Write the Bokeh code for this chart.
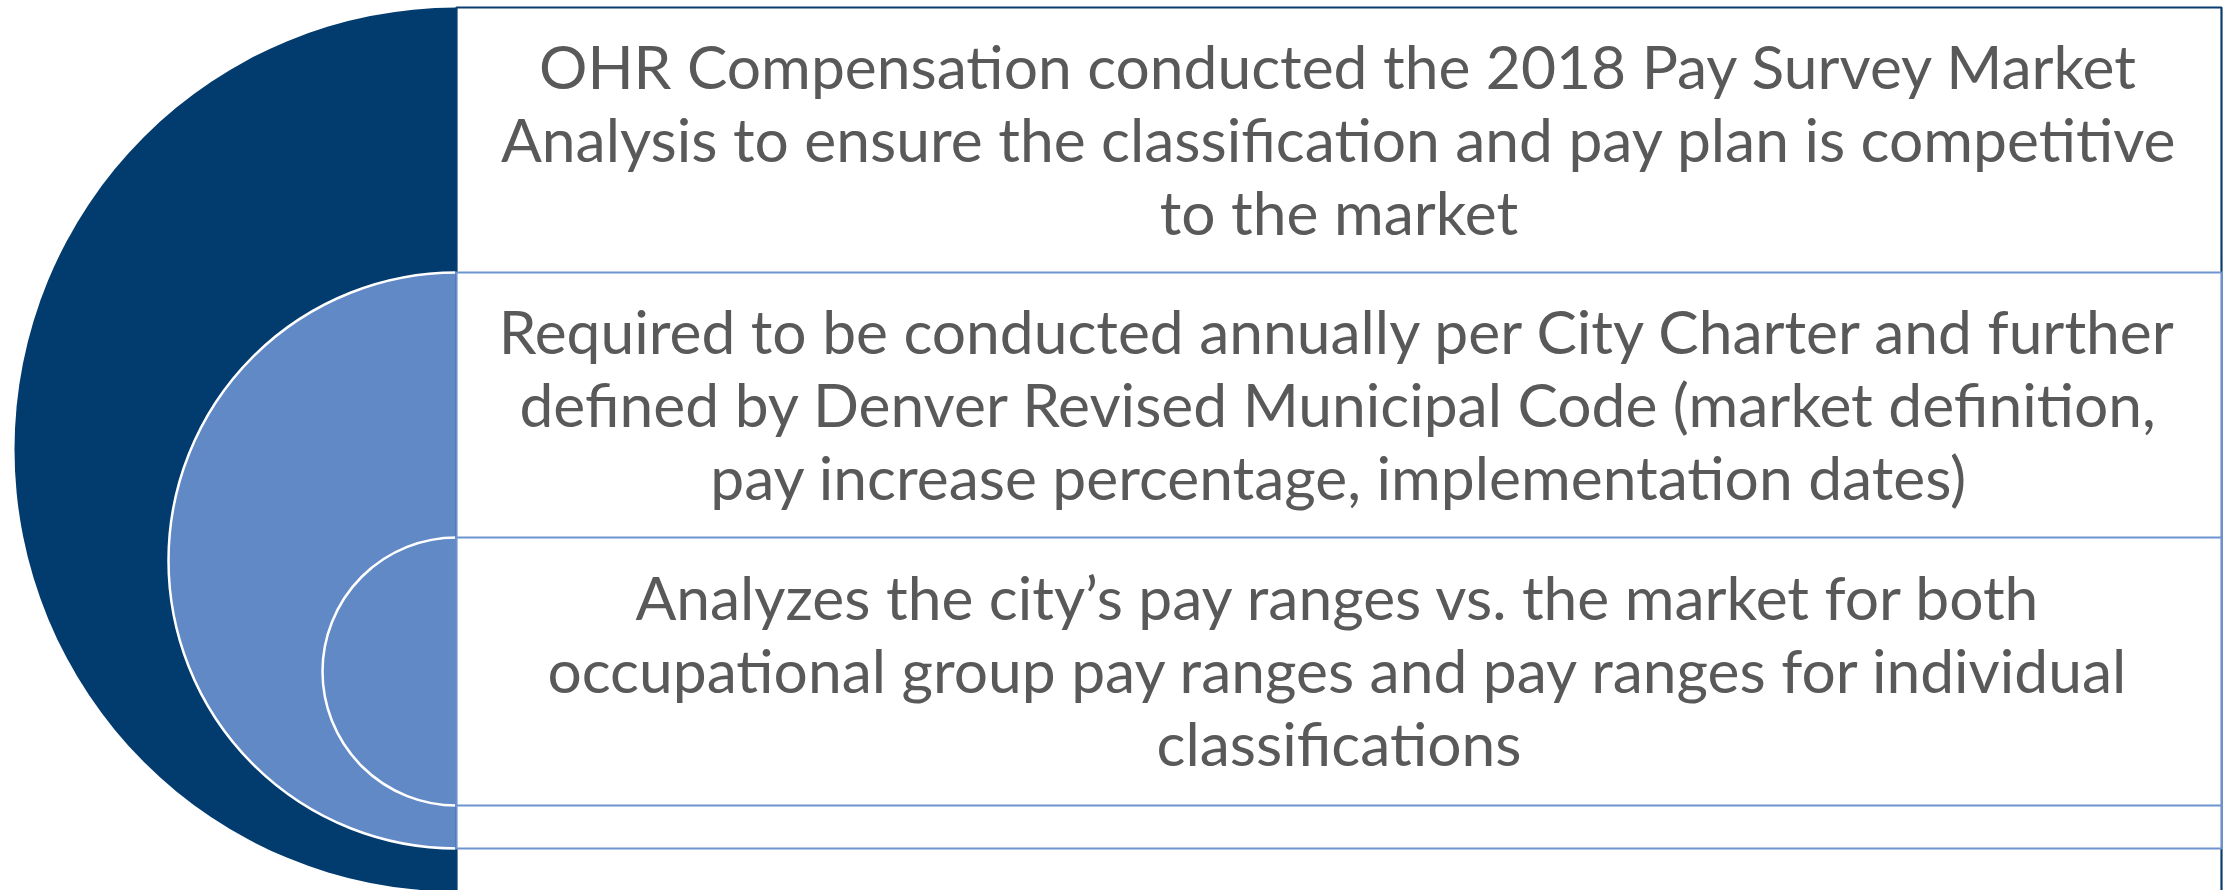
from bokeh.plotting import figure
from bokeh.models import Range1d
from bokeh.core.properties import value
from bokeh.embed import file_html
from bokeh.resources import INLINE

# ---- content ----
level_lines_1 = ["OHR Compensation conducted the 2018 Pay Survey Market",
                 "Analysis to ensure the classification and pay plan is competitive",
                 "to the market"]
level_lines_2 = ["Required to be conducted annually per City Charter and further",
                 "defined by Denver Revised Municipal Code (market definition,",
                 "pay increase percentage, implementation dates)"]
level_lines_3 = ["Analyzes the city\u2019s pay ranges vs. the market for both",
                 "occupational group pay ranges and pay ranges for individual",
                 "classifications"]
levels = [level_lines_1, level_lines_2, level_lines_3]

# ---- layout (pixel space) ----
W, H = 2233, 890
CX = 456          # shared centre of the half circles / left edge of boxes
RIGHT = 2221
tops = [7, 272, 537]
radii = [442, 288, 134]
circle_fill = ["#023B6E", "#6089C6", "#6089C6"]
circle_line = [None, "white", "white"]
box_line = ["#0A3D6F", "#6E94D0", "#6E94D0"]
TEXT_COLOR = "#595959"
FONT = "Lato"
FONT_SIZE = "60.5px"
LINE_GAP = 73

p = figure(width=W, height=H, output_backend="svg", toolbar_location=None,
           x_range=Range1d(0, W), y_range=Range1d(H, 0),
           x_axis_type=None, y_axis_type=None, min_border=0,
           background_fill_color="white", border_fill_color="white")
p.outline_line_color = None
p.grid.visible = False

# circles (right halves are covered by the boxes)
for i, r in enumerate(radii):
    cy = tops[i] + r
    p.ellipse(x=[CX], y=[cy], width=[2 * r], height=[2 * r],
              fill_color=circle_fill[i],
              line_color=circle_line[i] if circle_line[i] else None,
              line_width=2.5)

# boxes
for i, r in enumerate(radii):
    bottom = tops[i] + 2 * r
    p.quad(left=[CX], right=[RIGHT], top=[tops[i]], bottom=[bottom],
           fill_color="white", line_color=box_line[i], line_width=2.2)

# texts
for i, lines in enumerate(levels):
    region_top = tops[i]
    region_bot = tops[i + 1] if i + 1 < len(tops) else tops[i] + 2 * radii[i]
    mid = (region_top + region_bot) / 2 - 2
    n = len(lines)
    ys = [mid + (k - (n - 1) / 2) * LINE_GAP for k in range(n)]
    xs = [(CX + RIGHT) / 2] * n
    p.text(x=xs, y=ys, text=lines, text_align="center", text_baseline="middle",
           text_color=TEXT_COLOR, text_font=value(FONT), text_font_size=FONT_SIZE)

open("out.html", "w").write(file_html(p, INLINE))
